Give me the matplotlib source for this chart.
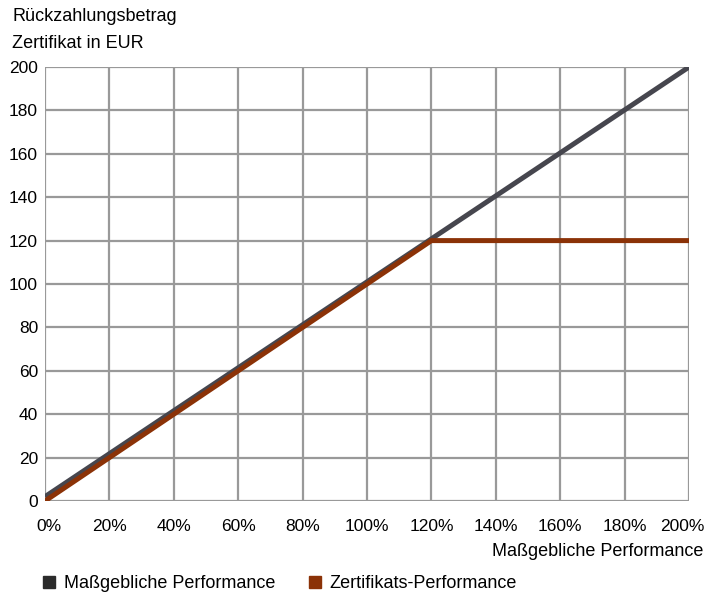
import matplotlib.pyplot as plt
import matplotlib.transforms as mtransforms
from matplotlib.lines import Line2D

plt.rcParams['font.family'] = ['Liberation Sans', 'DejaVu Sans']

# data
perf_x = [0, 200]
perf_y = [2, 200]
zert_x = [0, 120, 200]
zert_y = [0, 120, 120]
x_ticks = list(range(0, 201, 20))
y_ticks = list(range(0, 201, 20))

GREY = '#46464e'
RUST = '#8b3207'
GRID = '#999999'
FS = 12.5

fig = plt.figure(figsize=(7.05, 5.96), dpi=100)
ax = fig.add_axes([45 / 705, 1 - 501 / 596, 644 / 705, 434 / 596])

ax.plot(perf_x, perf_y, color=GREY, lw=3.6, solid_capstyle='butt', zorder=3)
ax.plot(zert_x, zert_y, color=RUST, lw=3.6, solid_capstyle='butt', zorder=4)

ax.set_xlim(0, 200)
ax.set_ylim(0, 200)
ax.set_xticks(x_ticks)
ax.set_xticklabels([f'{t}%' for t in x_ticks])
ax.set_yticks(y_ticks)
ax.grid(True, color=GRID, lw=1.6)
for s in ax.spines.values():
    s.set_visible(False)
ax.tick_params(length=0, labelsize=FS)
ax.tick_params(axis='x', pad=13)
ax.tick_params(axis='y', pad=5)

# nudge the outer x labels inwards so they stay inside the figure
xl = ax.get_xticklabels()
xl[0].set_transform(xl[0].get_transform() + mtransforms.ScaledTranslation(4 / 100, 0, fig.dpi_scale_trans))
xl[-1].set_transform(xl[-1].get_transform() + mtransforms.ScaledTranslation(-7 / 100, 0, fig.dpi_scale_trans))

fig.text(12 / 705, 1 - 8 / 596, 'Rückzahlungsbetrag\nZertifikat in EUR',
         ha='left', va='top', fontsize=13, linespacing=1.75)
fig.text(703 / 705, 1 - 551 / 596, 'Maßgebliche Performance',
         ha='right', va='center', fontsize=13)

handles = [
    Line2D([], [], marker='s', ls='', color='#2b2b2b', markersize=8),
    Line2D([], [], marker='s', ls='', color=RUST, markersize=8),
]
fig.legend(handles, ['Maßgebliche Performance', 'Zertifikats-Performance'],
           loc='center left', bbox_to_anchor=(43 / 705, 1 - 584 / 596),
           ncol=2, frameon=False, fontsize=13, handletextpad=0.45,
           columnspacing=1.85, handlelength=0.7, borderpad=0, borderaxespad=0)

fig.savefig('out.png', dpi=100)
